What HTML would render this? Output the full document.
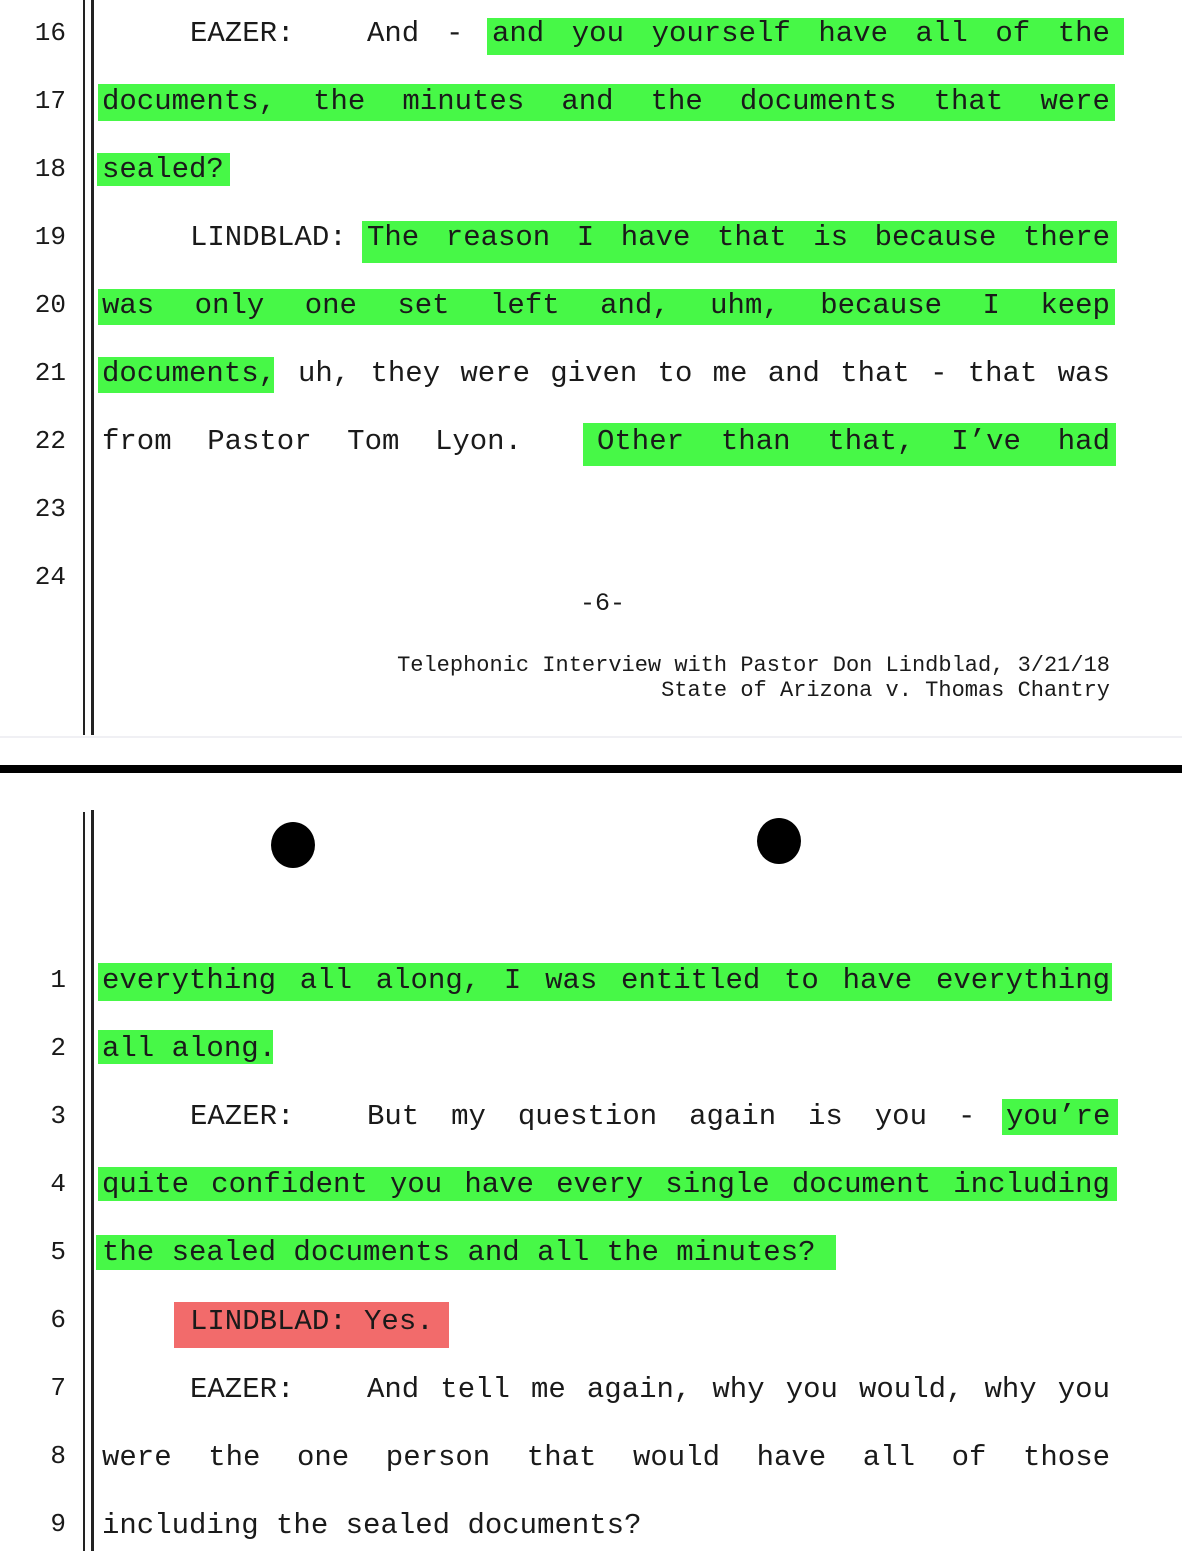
<!DOCTYPE html>
<html><head><meta charset="utf-8"><style>
html,body{margin:0;padding:0;background:#fff;}
body{width:1182px;height:1551px;position:relative;overflow:hidden;font-family:"Liberation Mono",monospace;color:#1a1a1a;}
.n{position:absolute;width:40px;left:26px;text-align:right;font-size:26px;line-height:30px;}
.l{position:absolute;display:flex;justify-content:space-between;font-size:29px;line-height:30px;white-space:pre;}
.h{position:absolute;background:#47f847;}
.r{position:absolute;background:#f26b6b;}
.v{position:absolute;background:#222;}
</style></head><body>
<div class="v" style="left:83px;top:0;width:2px;height:735px"></div>
<div class="v" style="left:91px;top:0;width:3px;height:735px"></div>
<div class="v" style="left:83px;top:812px;width:2px;height:739px"></div>
<div class="v" style="left:91px;top:810px;width:3px;height:741px"></div>
<div style="position:absolute;left:0;top:736px;width:1182px;height:2px;background:#f0f0f4"></div>
<div style="position:absolute;left:0;top:765px;width:1182px;height:8px;background:#000"></div>
<div style="position:absolute;left:271px;top:822px;width:44px;height:46px;border-radius:50%;background:#000"></div>
<div style="position:absolute;left:757px;top:818px;width:44px;height:46px;border-radius:50%;background:#000"></div>

<div class="h" style="left:487px;top:18px;width:637px;height:37px"></div>
<div class="h" style="left:98px;top:84px;width:1017px;height:37px"></div>
<div class="h" style="left:97px;top:153px;width:133px;height:33px"></div>
<div class="h" style="left:362px;top:221px;width:755px;height:42px"></div>
<div class="h" style="left:98px;top:289px;width:1017px;height:36px"></div>
<div class="h" style="left:98px;top:357px;width:176px;height:36px"></div>
<div class="h" style="left:583px;top:423px;width:533px;height:43px"></div>
<div class="h" style="left:98px;top:963px;width:1014px;height:38px"></div>
<div class="h" style="left:98px;top:1030px;width:175px;height:34px"></div>
<div class="h" style="left:1002px;top:1099px;width:116px;height:36px"></div>
<div class="h" style="left:98px;top:1167px;width:1019px;height:34px"></div>
<div class="h" style="left:96px;top:1235px;width:740px;height:35px"></div>
<div class="r" style="left:174px;top:1302px;width:275px;height:46px"></div>

<div class="n" style="top:18px">16</div>
<div class="n" style="top:86px">17</div>
<div class="n" style="top:154px">18</div>
<div class="n" style="top:222px">19</div>
<div class="n" style="top:290px">20</div>
<div class="n" style="top:358px">21</div>
<div class="n" style="top:426px">22</div>
<div class="n" style="top:494px">23</div>
<div class="n" style="top:562px">24</div>
<div class="n" style="top:965px">1</div>
<div class="n" style="top:1033px">2</div>
<div class="n" style="top:1101px">3</div>
<div class="n" style="top:1169px">4</div>
<div class="n" style="top:1237px">5</div>
<div class="n" style="top:1305px">6</div>
<div class="n" style="top:1373px">7</div>
<div class="n" style="top:1441px">8</div>
<div class="n" style="top:1509px">9</div>

<div class="l" style="left:190px;top:19px">EAZER:</div>
<div class="l" style="left:367px;top:19px">And</div>
<div class="l" style="left:446px;top:19px">-</div>
<div class="l" style="left:492px;width:618px;top:19px"><span>and</span><span>you</span><span>yourself</span><span>have</span><span>all</span><span>of</span><span>the</span></div>
<div class="l" style="left:102px;width:1008px;top:87px"><span>documents,</span><span>the</span><span>minutes</span><span>and</span><span>the</span><span>documents</span><span>that</span><span>were</span></div>
<div class="l" style="left:102px;top:155px">sealed?</div>
<div class="l" style="left:190px;top:223px">LINDBLAD:</div>
<div class="l" style="left:367px;width:743px;top:223px"><span>The</span><span>reason</span><span>I</span><span>have</span><span>that</span><span>is</span><span>because</span><span>there</span></div>
<div class="l" style="left:102px;width:1008px;top:291px"><span>was</span><span>only</span><span>one</span><span>set</span><span>left</span><span>and,</span><span>uhm,</span><span>because</span><span>I</span><span>keep</span></div>
<div class="l" style="left:102px;top:359px">documents,</div>
<div class="l" style="left:298px;width:812px;top:359px"><span>uh,</span><span>they</span><span>were</span><span>given</span><span>to</span><span>me</span><span>and</span><span>that</span><span>-</span><span>that</span><span>was</span></div>
<div class="l" style="left:102px;width:420px;top:427px"><span>from</span><span>Pastor</span><span>Tom</span><span>Lyon.</span></div>
<div class="l" style="left:597px;width:513px;top:427px"><span>Other</span><span>than</span><span>that,</span><span>I’ve</span><span>had</span></div>
<div class="l" style="left:580px;top:589px;font-size:25px">-6-</div>
<div style="position:absolute;right:72px;top:653px;text-align:right;font-size:22px;line-height:25px;white-space:pre">Telephonic Interview with Pastor Don Lindblad, 3/21/18
State of Arizona v. Thomas Chantry</div>

<div class="l" style="left:102px;width:1008px;top:966px"><span>everything</span><span>all</span><span>along,</span><span>I</span><span>was</span><span>entitled</span><span>to</span><span>have</span><span>everything</span></div>
<div class="l" style="left:102px;top:1034px">all along.</div>
<div class="l" style="left:190px;top:1102px">EAZER:</div>
<div class="l" style="left:367px;width:560px;top:1102px"><span>But</span><span>my</span><span>question</span><span>again</span><span>is</span><span>you</span></div>
<div class="l" style="left:958px;top:1102px">-</div>
<div class="l" style="left:1006px;top:1102px">you’re</div>
<div class="l" style="left:102px;width:1008px;top:1170px"><span>quite</span><span>confident</span><span>you</span><span>have</span><span>every</span><span>single</span><span>document</span><span>including</span></div>
<div class="l" style="left:102px;top:1238px">the sealed documents and all the minutes?</div>
<div class="l" style="left:190px;top:1307px">LINDBLAD: Yes.</div>
<div class="l" style="left:190px;top:1375px">EAZER:</div>
<div class="l" style="left:367px;width:743px;top:1375px"><span>And</span><span>tell</span><span>me</span><span>again,</span><span>why</span><span>you</span><span>would,</span><span>why</span><span>you</span></div>
<div class="l" style="left:102px;width:1008px;top:1443px"><span>were</span><span>the</span><span>one</span><span>person</span><span>that</span><span>would</span><span>have</span><span>all</span><span>of</span><span>those</span></div>
<div class="l" style="left:102px;top:1511px">including the sealed documents?</div>
</body></html>
